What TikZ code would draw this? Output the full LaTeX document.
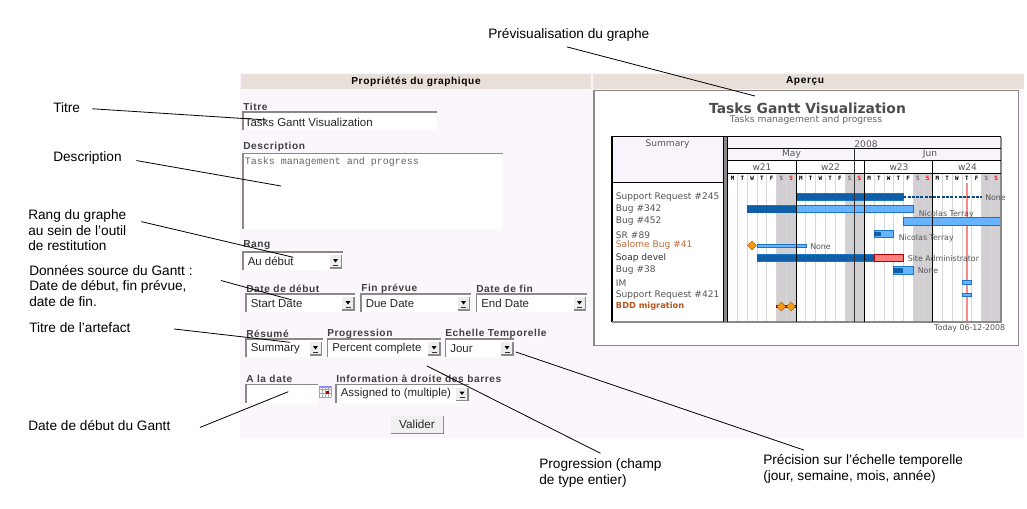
\documentclass[tikz,border=0pt]{standalone}
\usepackage{fontspec}
\setmainfont{Liberation Sans}
\setmonofont{Liberation Mono}
\newfontfamily\chartfont{DejaVu Sans}
\newfontfamily\chartmono{DejaVu Sans Mono}
\newfontfamily\formfont[LetterSpace=6]{Liberation Sans}
\usetikzlibrary{positioning,calc,shapes.geometric}

\definecolor{panelbg}{HTML}{FBF6FB}
\definecolor{headbg}{HTML}{E8E0D8}
\definecolor{edgegray}{HTML}{8C8888}
\definecolor{rowbg}{HTML}{F9F4FB}
\definecolor{weekend}{HTML}{D2CFD2}
\definecolor{daygrid}{HTML}{D6D6D6}
\definecolor{bardark}{HTML}{0F5FA8}
\definecolor{barlight}{HTML}{66B3FF}
\definecolor{baredge}{HTML}{1C75C4}
\definecolor{barred}{HTML}{FF7F7F}
\definecolor{todayred}{HTML}{F58A8A}
\definecolor{stone}{HTML}{F39C12}
\definecolor{textgray}{HTML}{555555}
\definecolor{rust}{HTML}{B5541C}

\tikzset{
  annot/.style={anchor=west,inner sep=0pt,align=left,font=\fontsize{10.25pt}{11.7pt}\selectfont},
  leader/.style={-,black,line width=.6pt},
  formlbl/.style={anchor=west,inner sep=0pt,font=\formfont\bfseries\fontsize{7.6pt}{8pt}\selectfont,text=black!75},
  fldtxt/.style={anchor=west,inner sep=0pt,font=\fontsize{8.6pt}{9pt}\selectfont,text=black!85},
  fldedge/.style={edgegray,line width=1pt},
  charttxt/.style={anchor=west,inner sep=0pt,font=\chartfont\fontsize{6.8pt}{8pt}\selectfont,text=textgray},
  hdrtxt/.style={inner sep=0pt,font=\chartfont\fontsize{6.8pt}{8pt}\selectfont,text=textgray},
  restxt/.style={charttxt,font=\chartfont\fontsize{5.9pt}{8pt}\selectfont},
  daytxt/.style={inner sep=0pt,font=\chartmono\bfseries\fontsize{4.4pt}{4.4pt}\selectfont},
  barbox/.style={draw=baredge,line width=.6pt,fill=barlight},
  milestone/.style={diamond,draw=orange!70!black,fill=stone,line width=.3pt,inner sep=0pt,minimum width=6.8pt,minimum height=6.8pt},
}

% x y(top) x2 name text
\newcommand{\formselect}[5]{
  \fill[white] (#1,#2) rectangle (#3,#2+18);
  \draw[fldedge] (#1,#2+18) -- (#1,#2) -- (#3,#2);
  \fill[black!7] (#3-13,#2+3) rectangle (#3-1,#2+16);
  \draw[edgegray,line width=.8pt] (#3-13,#2+16) -- (#3-1,#2+16) -- (#3-1,#2+3);
  \fill[black] (#3-9.5,#2+7) -- (#3-4.5,#2+7) -- (#3-7,#2+10.5) -- cycle;
  \fill[black!80] (#3-9.5,#2+12.5) rectangle (#3-4.5,#2+13.3);
  \node[fldtxt] (#4) at (#1+4.5,#2+9.5) {#5};
}
% x y1 y2 x2
\newcommand{\ganttbar}[4]{\path[barbox] (#1,#2) rectangle (#4,#3);}
\newcommand{\ganttdone}[4]{
  \path[barbox] (#1,#2) rectangle (#4,#3);
  \fill[bardark] (#1,#2+1) rectangle (#4,#3-1);
}

\begin{document}
\begin{tikzpicture}[x=.75pt,y=-.75pt]
    \useasboundingbox (0,0) rectangle (1027,508);
    \fill[white] (0,0) rectangle (1027,508);

    % the form
    \fill[panelbg] (240,73) rectangle (1024,438);
    \fill[headbg] (241,74) rectangle (591,89);
    \fill[headbg] (593,74) rectangle (1024,89);
    \node[inner sep=0pt,font=\formfont\bfseries\fontsize{7.6pt}{8pt}\selectfont] (hdrProps) at (416,81.5) {Propriétés du graphique};
    \node[inner sep=0pt,font=\formfont\bfseries\fontsize{7.6pt}{8pt}\selectfont] (hdrApercu) at (805,81.5) {Aperçu};

    \node[formlbl] (lblTitre) at (243,106.5) {Titre};
    \fill[white] (243,112) rectangle (437,130);
    \draw[fldedge] (243,130) -- (243,112) -- (437,112);
    \node[fldtxt] (valTitre) at (244.5,122) {Tasks Gantt Visualization};

    \node[formlbl] (lblDescr) at (243,147) {Description};
    \fill[white] (243,153) rectangle (503,228.5);
    \draw[fldedge] (243,228.5) -- (243,153.5) -- (503,153.5);
    \node[anchor=west,inner sep=0pt,font=\ttfamily\fontsize{7.5pt}{8pt}\selectfont,text=black!60] (valDescr) at (244.5,161.5) {Tasks management and progress};

    \node[formlbl] (lblRang) at (243,245.5) {Rang};
    \formselect{243}{252}{342.5}{valRang}{Au début}

    \node[formlbl] (lblDebut) at (246,288.5) {Date de début};
    \node[formlbl] (lblFin) at (361,288.5) {Fin prévue};
    \node[formlbl] (lblDateFin) at (476,288.5) {Date de fin};
    \formselect{246}{294}{355}{valDebut}{Start Date}
    \formselect{361}{294}{470.5}{valFin}{Due Date}
    \formselect{476.5}{294}{586.5}{valDateFin}{End Date}

    \node[formlbl] (lblResume) at (246,333.5) {Résumé};
    \node[formlbl] (lblProg) at (327,333.5) {Progression};
    \node[formlbl] (lblEchelle) at (445,333.5) {Echelle Temporelle};
    \formselect{246}{339}{322.5}{valResume}{Summary}
    \formselect{327.5}{339}{441}{valProg}{Percent complete}
    \formselect{445.5}{339}{514}{valEchelle}{Jour}

    \node[formlbl] (lblDate) at (246,378.5) {A la date};
    \node[formlbl] (lblInfo) at (336,378.5) {Information à droite des barres};
    \fill[white] (246,384.5) rectangle (318,402.5);
    \draw[fldedge] (246,402.5) -- (246,384.5) -- (318,384.5);
    % calendar icon
    \fill[white] (319,386) rectangle (331,397);
    \foreach \k in {0,1,2,3,4}{
      \draw[black!35,line width=.3pt] (319+3*\k,386) -- (319+3*\k,397);
    }
    \foreach \k in {0,1,2,3}{
      \draw[black!35,line width=.3pt] (319,386+3.6*\k) -- (331,386+3.6*\k);
    }
    \fill[blue!45!white] (319,386) rectangle (331,388);
    \fill[red!70!black] (326,391) rectangle (329,394);
    \formselect{336}{384.5}{469}{valInfo}{Assigned to (multiple)}

    \node[draw=none,fill=black!6,inner sep=0pt,minimum width=39.5pt,minimum height=13pt,font=\fontsize{8.8pt}{9pt}\selectfont,text=black!85] (btnValider) at (417,424.7) {Valider};
    \draw[edgegray,line width=.8pt] (391,433.3) -- (443.3,433.3) -- (443.3,416);

    % the preview
    \path[draw=edgegray,line width=.8pt,fill=white] (594,90.5) rectangle (1018.5,345.5);
    \node[inner sep=0pt,font=\chartfont\bfseries\fontsize{10.4pt}{11pt}\selectfont,text=black!70] (chartTitle) at (807.5,108.3) {Tasks Gantt Visualization};
    \node[inner sep=0pt,font=\chartfont\fontsize{6.9pt}{8pt}\selectfont,text=black!60] (chartSub) at (806,119.5) {Tasks management and progress};

    % header cells
    \fill[rowbg] (612,137) rectangle (723,182.7);
    \fill[rowbg] (727.7,137) rectangle (1001,160.3);
    % weekends and day lines
    \foreach \w in {0,1,2,3}{
      \fill[weekend] (727.7+48.8+68.3*\w,173.3) rectangle (727.7+68.3+68.3*\w,322);
    }
    \foreach \d in {1,...,27}{
      \draw[daygrid,line width=.5pt] (727.7+9.76*\d,173.3) -- (727.7+9.76*\d,322);
    }
    \foreach \w in {0,1,2,3}{
      \foreach \d [count=\n from 0] in {M,T,W,T,F}{
        \node[daytxt,text=black] (day\w\n) at (727.7+4.88+9.76*\n+68.3*\w,178.2) {\d};
      }
      \node[daytxt,text=black!60] (daysat\w) at (727.7+53.68+68.3*\w,178.2) {S};
      \node[daytxt,text=red] (daysun\w) at (727.7+63.44+68.3*\w,178.2) {S};
    }
    % red line of today
    \draw[todayred,line width=1pt] (967,182.7) -- (967,322);

    % bars
    \ganttdone{796.7}{193.3}{200.7}{903.3}
    \draw[bardark!80!black,line width=1.9pt,dash pattern=on 2.2pt off 1pt] (903.3,197) -- (981.7,197);
    \ganttbar{747.3}{205.7}{212.7}{913.3}
    \fill[bardark] (747.3,205.7) rectangle (796.7,212.7);
    \ganttbar{903.3}{217.3}{225}{1001}
    \ganttbar{874}{230}{237.7}{893.7}
    \fill[bardark] (874,231.5) rectangle (881,236.2);
    \ganttbar{757}{244}{247.7}{806}
    \ganttdone{757}{254}{261.7}{874}
    \path[draw=red!70!black,line width=.6pt,fill=barred] (874,254) rectangle (903.3,261.7);
    \ganttbar{893.3}{266.3}{274}{913.3}
    \fill[bardark] (893.3,267.5) rectangle (903.3,272.8);
    \ganttbar{962}{280.7}{284}{971.7}
    \ganttbar{962}{293}{296.3}{971.7}
    \fill[red!60!black] (776,305.3) rectangle (796.7,308);
    \node[milestone] (stoneSalome) at (752,245.3) {};
    \node[milestone] (stoneBddA) at (781.3,306.5) {};
    \node[milestone] (stoneBddB) at (791,306.5) {};

    % table lines
    \draw[black,line width=.8pt] (612,322) -- (612,136.7) -- (1001,136.7);
    \draw[edgegray,line width=.8pt] (612,322) -- (1001,322) -- (1001,136.7);
    \fill[edgegray] (723.6,136.7) rectangle (727.4,322);
    \draw[black,line width=.8pt] (723.3,136.7) -- (723.3,322);
    \draw[black,line width=.8pt] (727.7,136.7) -- (727.7,322);
    \draw[black,line width=.8pt] (727.7,148.7) -- (1001,148.7);
    \draw[black,line width=.8pt] (727.7,160.3) -- (1001,160.3);
    \draw[black,line width=.8pt] (727.7,173.3) -- (1001,173.3);
    \draw[black,line width=.8pt] (612,182.7) -- (723.3,182.7);
    \draw[black,line width=.8pt] (796.7,160.3) -- (796.7,322);
    \draw[black!80,line width=.8pt] (854.7,148.7) -- (854.7,322);
    \draw[black,line width=.8pt] (864.5,160.3) -- (864.5,322);
    \draw[black,line width=.8pt] (932.5,160.3) -- (932.5,322);

    % header texts
    \node[hdrtxt] (hdrSummary) at (667.5,144) {Summary};
    \node[hdrtxt] (hdrYear) at (866,144) {2008};
    \node[hdrtxt] (hdrMay) at (791.5,154) {May};
    \node[hdrtxt] (hdrJun) at (930,154) {Jun};
    \node[hdrtxt] (hdrW21) at (762,167) {w21};
    \node[hdrtxt] (hdrW22) at (830.5,167) {w22};
    \node[hdrtxt] (hdrW23) at (899,167) {w23};
    \node[hdrtxt] (hdrW24) at (967.5,167) {w24};

    % row names and right labels
    \foreach \t/\y [count=\i] in {Support Request \#245/197,Bug \#342/209.5,Bug \#452/221,SR \#89/235.5,Bug \#38/270,IM/283.5,Support Request \#421/295}{
      \node[charttxt] (row\i) at (615.7,\y) {\t};
    }
    \node[charttxt,text=rust!85!white] (rowSalome) at (615.7,245) {Salome Bug \#41};
    \node[charttxt,text=black!80] (rowSoap) at (615.7,257.5) {Soap devel};
    \node[charttxt,text=rust,font=\chartfont\bfseries\fontsize{6.2pt}{8pt}\selectfont] (rowBdd) at (615.7,306) {BDD migration};
    \node[restxt] (resNone) at (985,197.5) {None};
    \node[restxt] (resTerrayA) at (918.5,214) {Nicolas Terray};
    \node[restxt] (resTerrayB) at (898.5,238.5) {Nicolas Terray};
    \node[restxt] (resNoneB) at (810,246.5) {None};
    \node[restxt] (resSite) at (907.5,258.5) {Site Administrator};
    \node[restxt] (resNoneC) at (917.5,271) {None};
    \node[restxt,anchor=east] (today) at (1005.5,328) {Today 06-12-2008};

    % annotations
    \node[annot] (txtPrev) at (488,35) {Prévisualisation du graphe};
    \node[annot] (txtTitre) at (53,108) {Titre};
    \node[annot] (txtDescr) at (53,158) {Description};
    \node[annot] (txtRang) at (28,230.5) {Rang du graphe\\au sein de l'outil\\de restitution};
    \node[annot] (txtSource) at (29,286) {Données source du Gantt :\\Date de début, fin prévue,\\date de fin.};
    \node[annot] (txtArtefact) at (29,328) {Titre de l'artefact};
    \node[annot] (txtGantt) at (28,426) {Date de début du Gantt};
    \node[annot] (txtProg) at (539,473) {Progression (champ\\de type entier)};
    \node[annot] (txtPrec) at (763,469) {Précision sur l'échelle temporelle\\(jour, semaine, mois, année)};

    \coordinate (tgtPrev) at (755,96);
    \coordinate (tgtTitre) at (266.7,120);
    \coordinate (tgtDescr) at (281,186);
    \coordinate (tgtRang) at (293.3,257.3);
    \coordinate (tgtSource) at (292,300);
    \coordinate (tgtArtefact) at (290,342.3);
    \coordinate (tgtGantt) at (288.3,391.7);
    \coordinate (tgtProg) at (427,366);
    \coordinate (tgtPrec) at (516,352);

    \path [leader] ([xshift=-1.35pt,yshift=-3.9pt]txtPrev.south) edge node {} (tgtPrev);
    \path [leader,shorten <=9pt] (txtTitre.east) edge node {} (tgtTitre);
    \path [leader,shorten <=11pt] (txtDescr.east) edge node {} (tgtDescr);
    \path [leader,shorten <=11.4pt] ([yshift=-6.4pt]txtRang.north east) edge node {} (tgtRang);
    \path [leader,shorten <=22pt] ([yshift=-5.8pt]txtSource.north east) edge node {} (tgtSource);
    \path [leader,shorten <=32.6pt] ([yshift=3pt]txtArtefact.east) edge node {} (tgtArtefact);
    \path [leader,shorten <=23.7pt] ([yshift=-10pt]txtGantt.east) edge node {} (tgtGantt);
    \path [leader] ([yshift=4pt]txtProg.north) edge node {} (tgtProg);
    \path [leader] ([xshift=30.75pt,yshift=3.3pt]txtPrec.north west) edge node {} (tgtPrec);
\end{tikzpicture}
\end{document}
